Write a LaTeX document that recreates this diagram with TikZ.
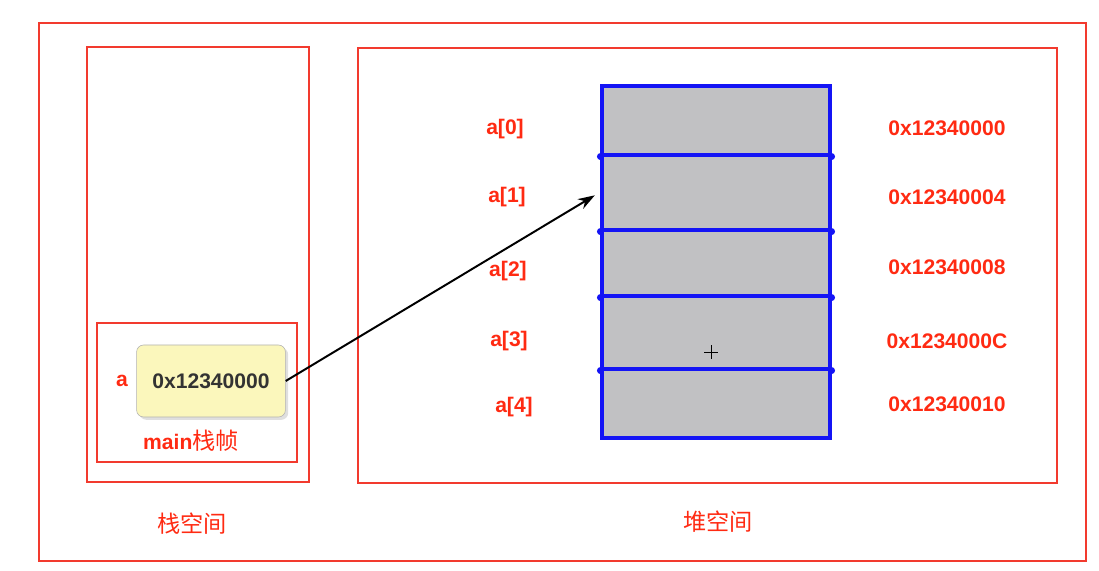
\documentclass[tikz,border=0pt]{standalone}
\usepackage{fontspec}
\setmainfont{Liberation Sans}
\newfontfamily\cjk{Noto Sans CJK SC}
\usetikzlibrary{arrows.meta, positioning, shadows, fit}
\definecolor{FrameRed}{HTML}{F23A2E}
\definecolor{LabelRed}{HTML}{FF2A12}
\definecolor{CellBlue}{HTML}{1414F5}
\definecolor{CellGray}{HTML}{C1C1C3}
\definecolor{NoteYellow}{HTML}{FBF7BC}
\definecolor{NoteText}{HTML}{333333}

\begin{document}
\begin{tikzpicture}[
    x=0.025cm, y=-0.025cm,
    frame/.style={draw=FrameRed, line width=1.8pt},
    cell/.style={draw=CellBlue, line width=2.2pt, fill=CellGray, inner sep=0pt},
    joint/.style={circle, fill=CellBlue, inner sep=0pt, minimum size=5pt},
    idx/.style={font=\bfseries\fontsize{15}{18}\selectfont, text=LabelRed},
    addr/.style={font=\bfseries\fontsize{15}{18}\selectfont, text=LabelRed},
    area/.style={font=\cjk\fontsize{16.5}{18}\selectfont, text=LabelRed},
    value/.style={draw=gray!60, fill=NoteYellow, rounded corners=5pt,
        drop shadow={opacity=0.25, shadow xshift=2pt, shadow yshift=-2pt},
        minimum width=3.72cm, minimum height=1.8cm,
        font=\bfseries\fontsize{15}{18}\selectfont, text=NoteText}
]
\useasboundingbox (0,0) rectangle (1099,571);

% --- frames ---
\draw[frame] (39,23) rectangle (1086,561);
\draw[frame] (87,47) rectangle (309,482);
\draw[frame] (358,48) rectangle (1057,483);
\draw[frame] (97,323) rectangle (297,462);

% --- stack side ---
\node[value] (ptr) at (211,381) {0x12340000};
\node[idx] (aname) at (122,381) {a};
\node[font=\bfseries\fontsize{15}{18}\selectfont, text=LabelRed] (frm) at (191,441) {main{\cjk\mdseries\fontsize{16.5}{18}\selectfont 栈帧}};
\node[area] (stk) at (192,524) {栈空间};

% --- heap array ---
\node[cell, fit={(602,86) (830,155)}] (c0) {};
\node[cell, fit={(602,155) (830,230)}] (c1) {};
\node[cell, fit={(602,230) (830,296)}] (c2) {};
\node[cell, fit={(602,296) (830,369)}] (c3) {};
\node[cell, fit={(602,369) (830,438)}] (c4) {};
\foreach \c in {c0,c1,c2,c3} {
    \node[joint] at (\c.south west) {};
    \node[joint] at (\c.south east) {};
}
\draw[line width=0.6pt] (704,352) -- (718,352) (711,345) -- (711,359);

% --- labels ---
\node[idx] (i0) at (505,129) {a[0]};
\node[idx] (i1) at (507,197) {a[1]};
\node[idx] (i2) at (508,271) {a[2]};
\node[idx] (i3) at (509,341) {a[3]};
\node[idx] (i4) at (514,407) {a[4]};
\node[addr] (d0) at (947,128) {0x12340000};
\node[addr] (d1) at (947,197) {0x12340004};
\node[addr] (d2) at (947,267) {0x12340008};
\node[addr] (d3) at (947,341) {0x1234000C};
\node[addr] (d4) at (947,404) {0x12340010};
\node[area] (hp) at (718,522) {堆空间};

% --- pointer ---
\draw[line width=1.4pt, -{Stealth[length=12pt, width=8pt]}]
    (ptr.east) -- ([xshift=-4pt, yshift=-2pt]c1.west);
\end{tikzpicture}
\end{document}
